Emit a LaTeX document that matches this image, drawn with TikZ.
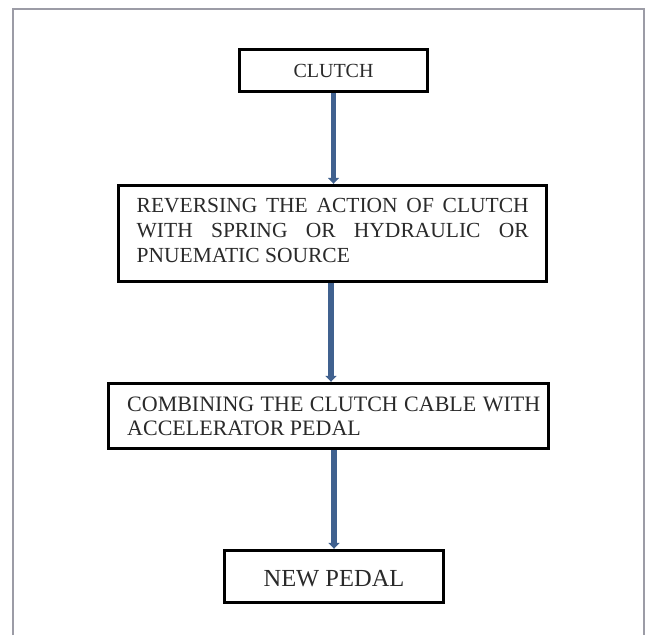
\documentclass[tikz,border=0pt]{standalone}
\usepackage{fontspec}
\setmainfont{Liberation Serif}
\usetikzlibrary{arrows.meta}
\definecolor{framegray}{HTML}{9C9CA6}
\definecolor{arrowblue}{HTML}{40618F}
\definecolor{textgray}{HTML}{2A2A2A}
\begin{document}
\begin{tikzpicture}[x=1pt,y=-1pt,
  box/.style={draw=black, line width=3.4pt, fill=white, inner sep=0pt},
  txt/.style={inner sep=0pt, text=textgray, align=left},
  flow/.style={draw=arrowblue, line width=5.5pt, -{Triangle[width=11pt,length=6pt]}}]
\useasboundingbox (0,0) rectangle (647,635);
\fill[white] (0,0) rectangle (647,635);
% outer frame (open at the bottom)
\draw[framegray, line width=2.4pt] (13,635) -- (13,9) -- (644,9) -- (644,635);
% boxes
\node[box, minimum width=188pt, minimum height=42pt] (b1) at (333.5,70.5) {};
\node[box, minimum width=428pt, minimum height=96pt] (b2) at (332.5,233.5) {};
\node[box, minimum width=440pt, minimum height=65pt] (b3) at (328.5,416) {};
\node[box, minimum width=219pt, minimum height=52pt] (b4) at (334,576.5) {};
% texts
\node[txt, font=\fontsize{20}{24}\selectfont] (t1) at (b1.center) {CLUTCH};
\node[txt, anchor=north west, font=\fontsize{21.5}{25}\selectfont] (t2) at (136.5,198)
  {\makebox[392pt][s]{REVERSING THE ACTION OF CLUTCH}\\
   \makebox[392pt][s]{WITH SPRING OR HYDRAULIC OR}\\
   PNUEMATIC SOURCE};
\node[txt, anchor=north west, font=\fontsize{22}{23.5}\selectfont] (t3) at (127,397)
  {\makebox[413pt][s]{COMBINING THE CLUTCH CABLE WITH}\\
   ACCELERATOR PEDAL};
\node[txt, font=\fontsize{24.5}{28}\selectfont] (t4) at ([yshift=-2pt]b4.center) {NEW PEDAL};
% connectors
\draw[flow] (b1.south) -- (b1.south |- b2.north);
\draw[flow] ([xshift=-1.5pt]b2.south) -- ([xshift=-1.5pt]b2.south |- b3.north);
\draw[flow] (b4.north |- b3.south) -- (b4.north);
\end{tikzpicture}
\end{document}
